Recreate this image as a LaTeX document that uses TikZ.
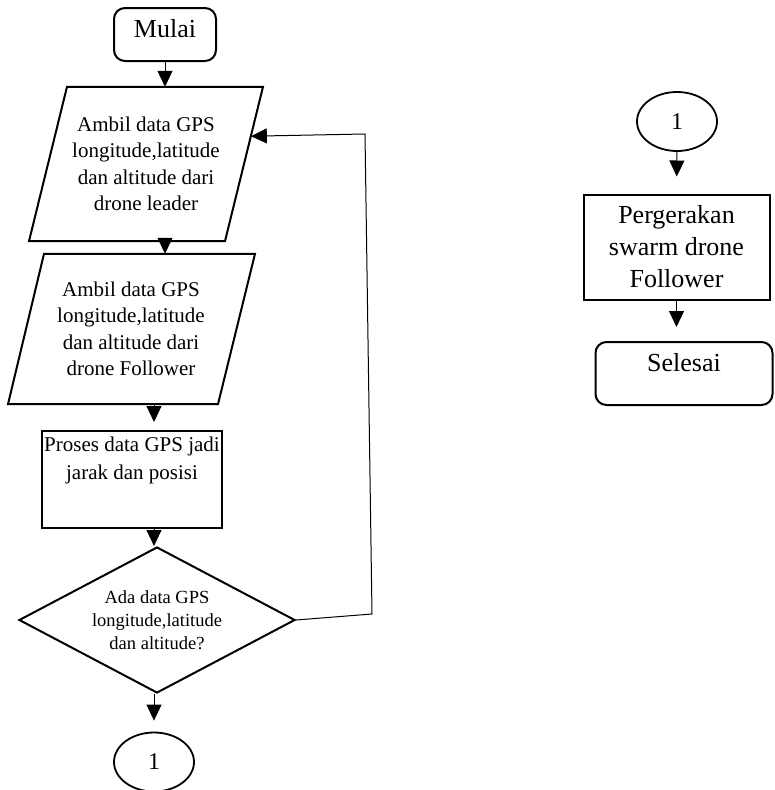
\documentclass[tikz,border=0pt]{standalone}
\usepackage{fontspec}
\setmainfont{Liberation Serif}
\usetikzlibrary{arrows.meta,shapes.geometric,calc}
\begin{document}
\begin{tikzpicture}[x=1pt,y=-1pt,
  outline/.style={draw,line width=2pt},
  term/.style={outline,rounded corners=11pt,inner sep=0pt},
  procbox/.style={outline,inner sep=0pt},
  iotext/.style={inner sep=0pt,align=center,font=\fontsize{21}{26.5}\selectfont},
  decision/.style={outline,diamond,inner sep=0pt,minimum width=276pt,minimum height=146pt,
                   aspect=1.89,align=center,font=\fontsize{18.5}{23}\selectfont},
  connector/.style={draw,ellipse,line width=1.8pt,inner sep=0pt,minimum width=80pt,
                    minimum height=59pt,font=\fontsize{24}{28}\selectfont},
  flow/.style={line width=1pt,-{Triangle[width=15pt,length=16pt]}},
]
\useasboundingbox (0,0) rectangle (774,790);

% ---- main column ----
\node[term] (mulai) at (165,34.5)
  {\parbox[c][53pt][t]{102pt}{\vspace*{11pt}\centering\fontsize{26}{30}\selectfont Mulai}};

\node[iotext,minimum height=154pt] (p1) at (146,164)
  {Ambil data GPS\\longitude,latitude\\dan altitude dari\\drone leader};
\draw[outline] ($(p1.north)+(-79,0)$) coordinate (p1tl)
  -- ($(p1.north)+(117,0)$) coordinate (p1tr)
  -- ($(p1.south)+(79,0)$) coordinate (p1br)
  -- ($(p1.south)+(-117,0)$) coordinate (p1bl) -- cycle;

\node[iotext,minimum height=150pt] (p2) at (131,329)
  {Ambil data GPS\\longitude,latitude\\dan altitude dari\\drone Follower};
\draw[outline] ($(p2.north)+(-87,0)$) coordinate (p2tl)
  -- ($(p2.north)+(124,0)$) coordinate (p2tr)
  -- ($(p2.south)+(87,0)$) coordinate (p2br)
  -- ($(p2.south)+(-123,0)$) coordinate (p2bl) -- cycle;

\node[procbox] (proc) at (132,479.5)
  {\parbox[c][97pt][t]{180pt}{\vspace*{6pt}\centering\fontsize{21}{28}\selectfont
   Proses data GPS jadi\\jarak dan posisi}};

\node[decision] (dec) at (157,620) {Ada data GPS\\longitude,latitude\\dan altitude?};

\node[connector] (c1) at (154,762) {1};

% ---- continuation column ----
\node[connector] (c2) at (677,121.5) {1};

\node[procbox,minimum width=186pt,minimum height=105pt,align=center,
      font=\fontsize{26}{32}\selectfont] (r2) at (676.5,247)
  {Pergerakan\\swarm drone\\Follower};

\node[term] (end) at (684,373.5)
  {\parbox[c][63pt][t]{177pt}{\vspace*{11pt}\centering\fontsize{26}{30}\selectfont Selesai}};

% ---- connectors ----
\draw[flow] (mulai.south) -- (mulai.south |- p1.north);
\draw[flow] (p1.south -| mulai) -- (p2.north -| mulai);
\draw[flow,shorten >=8pt] (p2.south -| c1) -- (proc.north -| c1);
\draw[flow] (proc.south -| c1) -- (dec.north -| c1);
\draw[flow,shorten >=11pt] (dec.south -| c1) -- (c1.north);

\coordinate (loopA) at (372,614);
\coordinate (loopB) at (365,134);
\draw[flow] (dec.east) -- (loopA) -- (loopB) -- ($(p1tr)!0.32!(p1br)$);

\draw[flow,shorten >=17pt] (c2.south) -- (r2.north);
\draw[flow,shorten >=14pt] (r2.south) -- (r2.south |- end.north);
\end{tikzpicture}
\end{document}
